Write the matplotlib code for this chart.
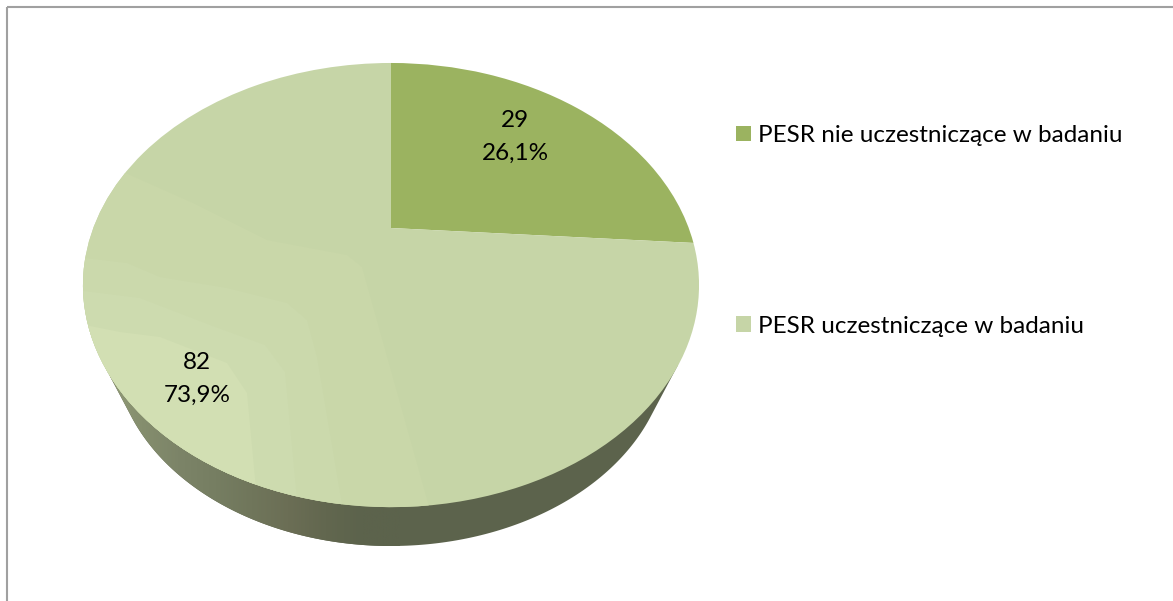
import numpy as np
import matplotlib
matplotlib.use("Agg")
from matplotlib import pyplot as plt
from matplotlib.colors import LinearSegmentedColormap
from matplotlib.patches import Polygon
from matplotlib.transforms import Transform

labels = ['PESR nie uczestniczące w badaniu', 'PESR uczestniczące w badaniu']
values = [29, 82]
percents = [26.1, 73.9]
slice_colors = ['#9BB360', '#C6D5A7']

# lighter bands on the big slice, edge lines in pixels
band_edges = [
    [(60, 143), (130, 175), (193, 203), (267, 240), (347, 255), (362, 267), (430, 510)],
    [(60, 255), (127, 263), (160, 277), (227, 288), (287, 303), (307, 320), (317, 357), (343, 510)],
    [(60, 288), (140, 298), (210, 325), (265, 345), (285, 372), (298, 510)],
    [(60, 320), (120, 332), (160, 337), (227, 363), (247, 393), (258, 510)],
]
band_colors = ['#C9D7A9', '#CBD9AC', '#CDDBAF', '#D2DFB3']

wall_stops = ['#939C78', '#858E6E', '#7C8468', '#767E62', '#70765B', '#6B6E55', '#62674F', '#5C634C', '#5C634C']


# tilted disc: unit circle to pixels
class TiltedDisc(Transform):
    input_dims = 2
    output_dims = 2

    def transform_non_affine(self, xy):
        xy = np.asarray(xy)
        w = 1 + 0.2568 * xy[:, 1]
        return np.column_stack([391 + 297.7 * xy[:, 0] / w, 228 - 207.4 * xy[:, 1] / w])


fig = plt.figure(figsize=(11.73, 6.01), dpi=100)
ax = fig.add_axes([0, 0, 1, 1])

wedges, _ = ax.pie(values, colors=slice_colors, startangle=90, counterclock=False, radius=1)
for w in wedges:
    w.set_transform(TiltedDisc() + ax.transData)
    w.set_zorder(3)
    w.set_linewidth(0)

for edge, c in zip(band_edges, band_colors):
    pts = edge + [(edge[-1][0], 601), (0, 601), (0, edge[0][1])]
    band = Polygon(pts, closed=True, facecolor=c, edgecolor='none', zorder=4)
    ax.add_patch(band)
    band.set_clip_path(wedges[1])

# side of the pie
t = np.radians(np.linspace(-20, 200, 300))
wall_x = 391 + 277.5 * np.cos(t)
wall_y = 346 + 200 * np.sin(t)
keep = wall_y >= 418
wall_pts = [(678, 365)] + list(zip(wall_x[keep], wall_y[keep])) + [(104, 365)]
wall = Polygon(wall_pts, closed=True, facecolor='none', edgecolor='none', zorder=1)
ax.add_patch(wall)
cmap = LinearSegmentedColormap.from_list('wall', wall_stops)
im = ax.imshow(np.linspace(0, 1, 300).reshape(1, -1), cmap=cmap, extent=(104, 400, 560, 340),
               aspect='auto', zorder=1)
rest = Polygon(wall_pts, closed=True, facecolor='#5C634C', edgecolor='none', zorder=0.5)
ax.add_patch(rest)
im.set_clip_path(wall)

# slice labels
label_pos = [(515, 137), (197, 379)]
for v, p, pos in zip(values, percents, label_pos):
    txt = '%d\n%s%%' % (v, ('%.1f' % p).replace('.', ','))
    ax.text(pos[0], pos[1], txt, ha='center', va='center', fontsize=17.5, color='black',
            family='Lato', linespacing=1.72, zorder=6)

# legend
ax.legend(wedges, labels, loc='upper left', bbox_to_anchor=(736 / 1173, 1 - 125 / 601), frameon=False,
          prop={'family': 'Lato', 'size': 17.5}, handlelength=0.62, handleheight=0.62,
          handletextpad=0.29, labelspacing=6.98, borderpad=0, borderaxespad=0, labelcolor='black')

# chart frame, only top and left show
ax.plot([7, 7], [601, 7], color='#A0A0A0', lw=1.5, solid_capstyle='butt', zorder=2)
ax.plot([7, 1173], [7, 7], color='#A0A0A0', lw=1.5, solid_capstyle='butt', zorder=2)

ax.set_aspect('auto')
ax.set_xlim(0, 1173)
ax.set_ylim(601, 0)
ax.set_axis_off()

fig.savefig('out.png', dpi=100)
